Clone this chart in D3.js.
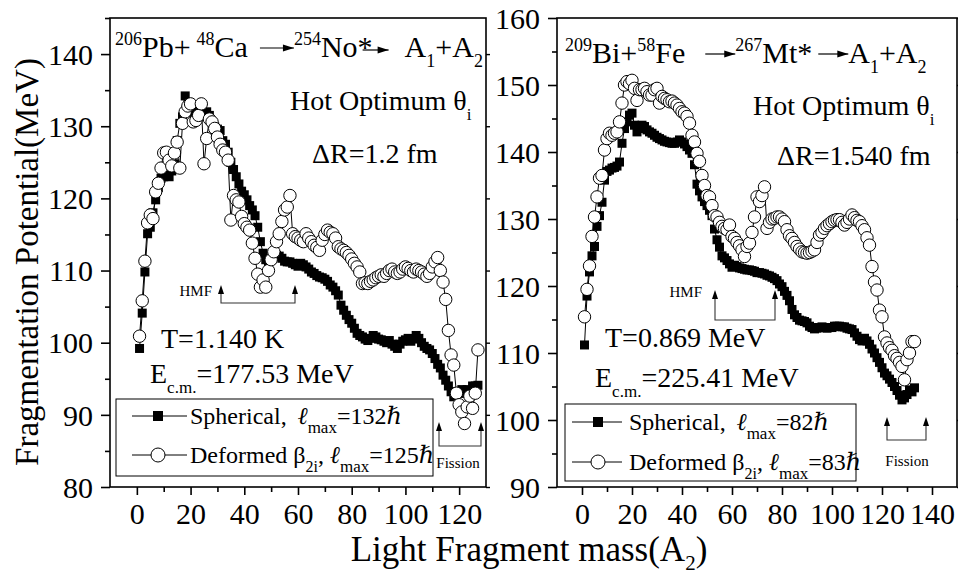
<!DOCTYPE html>
<html><head><meta charset="utf-8">
<script src="https://cdn.jsdelivr.net/npm/d3@7"></script>
<style>body{margin:0;background:#fff}text{font-family:"Liberation Serif","DejaVu Serif","Times New Roman",serif;fill:#000}</style>
</head><body><svg id="c" width="958" height="574"></svg>
<script>
// ---------- DATA ----------
// Left panel: 206Pb+48Ca -> 254No*, A2 = 1..127
const leftMass = d3.range(1, 128);
const leftSpherical = [
 99.2,104.1,109.8,115.1,116,118,119.8,121.5,122.8,123,123.2,123,123.8,124.8,128,130.4,131.3,134.2,133,132.7,
 131.5,132,132.5,131.5,131.8,132,131.5,130.5,129.9,129.6,129.4,128,127.5,126.4,125,124,123,122,121,120.5,
 119.8,119,118.4,117.6,116,114,112.4,111.5,111.2,111.5,112,112.1,112,111.7,111.3,111.2,111.2,111,110.8,110.6,
 111,110.8,110.5,110.2,109.8,109.6,109.3,109.1,109,108.8,108.5,108,107.7,107.2,106.6,105.2,104.5,103.8,103.2,102.7,
 102,101.3,101,100.8,100.5,100.3,100.6,101,100.8,100.5,100.4,100.2,100,100.3,99.8,99.5,99.2,99.8,100.2,100.4,
 100.6,100.2,100.5,101,100.6,100,99.5,99.2,99,98.5,97.8,97,96.5,95.5,94.8,94,93.2,92.5,93,93,
 93.5,93,93.5,93.2,94,94,94.1];
const leftDeformed = [
 100.9,105.8,111.3,116.6,117.7,117.2,120.9,122.1,124.2,126.3,126.4,125.3,124.5,126.3,127.8,124.2,130.4,132,132.8,133.1,
 130.6,130.8,131.5,133.1,124.8,128.3,131,130.6,129.7,128.5,127.5,126.7,126.4,125.3,117,120.4,119.8,119.5,117.5,116.5,
 116,115.6,113.8,111.7,109.5,107.7,108.7,107.7,110,111.5,112.6,114,115.1,116.8,118.4,118.8,120.4,115.1,114.7,114.5,
 114.2,114,115.1,114.5,114,113.5,113.2,112.8,114.2,115,115.6,115.3,115.1,114.5,113.3,113,112.8,112.5,112.1,111.6,
 111,110.5,109.8,108.2,108.3,108.2,108.5,108.7,109,109.2,109.4,109.2,109.6,110,110.2,109.8,109.6,109.8,110.2,110.5,
 110.3,110,109.8,110.2,110,109.8,109.5,109.2,109.6,110.5,111.2,111.8,110,108.4,106,101.7,98.3,96.9,93,91.4,
 90.4,88.8,91.1,92.6,90.9,93,99];
// Right panel: 209Bi+58Fe -> 267Mt*, A2 = 1..133
const rightMass = d3.range(1, 134);
const rightSpherical = [
 111.2,118.5,122.1,124.5,125.9,128.9,130.5,132.5,135.8,137.1,137.3,137.6,137.7,137.9,138.5,141.3,143.5,144.5,145.5,145.8,
 144,143,143.5,144,143.8,143.3,143,142.8,142.5,142.2,142,141.8,141.6,141.5,141.4,141.3,141.3,141.5,141.8,141.5,
 141.2,140.8,140.3,139.8,138.1,135.2,134.2,133.3,132.6,132,131.3,130.5,128.5,126.9,125.8,124.5,124.2,123.8,123.3,122.8,
 123.1,122.9,122.7,122.6,122.5,122.4,122.4,122.3,122.2,122,122,121.9,121.8,121.6,121.5,121.3,121.1,120.8,120.3,119.9,
 119.2,118.6,117.8,116.5,115.7,115.3,114.9,114.8,114.7,114.5,114,113.8,113.6,113.7,113.8,113.9,113.8,113.7,113.8,113.8,
 114,114,114,113.9,113.9,113.7,113.6,113.5,113,112.5,112,111.8,112.2,111.8,111.3,110.6,110,109.3,108.6,107.8,
 107,106.6,106.1,105.6,105,104.4,103.7,103,103.3,103.8,104.5,104.2,104.8];
const rightDeformed = [
 115.4,119.5,123,127.4,130.3,133.3,136.1,136.5,140.3,142,142.8,142.5,142.8,143,144.5,147.3,150,150.5,150.2,150.7,
 149.5,147.7,149.3,149.3,149.5,149,148.5,148.5,149.3,149.5,147.3,148.3,148,147.8,147.5,147.6,147.3,147,146.5,146,
 145.8,145.3,144.3,142.5,141.5,139.8,138.6,136.5,135,133.5,133.3,132,130.5,130.3,129.5,128.9,128.6,128.4,129.1,127.4,
 127.1,126.5,126,125.4,124.4,125.9,126.4,128,130.3,133.3,132.6,133.5,134.8,128.6,129.5,130,130.1,130.3,130.3,130,
 129.6,128.4,127.5,127.1,126.5,125.9,125.5,125.1,125,124.9,125,125.2,125.4,126.5,127.6,128,128.6,129,129.3,129.6,
 129.8,129.9,129.9,129.5,129.1,129.5,130,130.6,130.2,129.8,129.6,129,128.4,127.2,126.1,122.9,120.6,119.4,116.4,115.4,
 112.4,111.5,110.8,110.4,109.6,109.2,108.6,108,106,109,110,111.7,111.7];

const leftYTicks = [80, 90, 100, 110, 120, 130, 140];
const rightYTicks = [90, 100, 110, 120, 130, 140, 150, 160];
const leftXTicks = [0, 20, 40, 60, 80, 100, 120];
const rightXTicks = [0, 20, 40, 60, 80, 100, 120, 140];

// ---------- DRAW ----------
const svg = d3.select("#c");
svg.append("rect").attr("width", 958).attr("height", 574).attr("fill", "#fff");
const SERIF = '"Liberation Serif","DejaVu Serif","Times New Roman",serif';

function arrowHead(g, x, y, dir) {
  const p = dir === 'up' ? [[x, y], [x - 3, y + 9], [x + 3, y + 9]] : [[x, y], [x - 11, y - 3.5], [x - 11, y + 3.5]];
  g.append("path").attr("d", "M" + p.map(q => q.join(",")).join("L") + "Z").attr("fill", "#000");
}

function rich(g, x, y, segs) {
  let cx = x;
  segs.forEach(s => {
    if (s.arrow) {
      const ay = y + (s.ay || -9);
      const x0 = cx + (s.off || 0);
      g.append("line").attr("x1", x0).attr("x2", x0 + s.arrow).attr("y1", ay).attr("y2", ay).attr("stroke", "#000").attr("stroke-width", 1.2);
      arrowHead(g, x0 + s.arrow, ay, 'right');
      cx = x0 + s.arrow + (s.gap || 0);
      return;
    }
    const t = g.append("text").attr("x", cx).attr("y", y + (s.dy || 0)).attr("font-size", s.size || 30)
      .style("white-space", "pre").text(s.t);
    if (s.italic) t.attr("font-style", "italic");
    cx += t.node().getComputedTextLength() + (s.gap || 0);
  });
  return cx;
}

function panel(cfg) {
  const g = svg.append("g");
  const x = d3.scaleLinear().domain(cfg.xDomain).range([cfg.x0, cfg.x1]);
  const y = d3.scaleLinear().domain(cfg.yDomain).range([cfg.y1, cfg.y0]);
  const yMinor = d3.range(cfg.yDomain[0], cfg.yDomain[1] + 0.01, 5).filter(v => !cfg.yTicks.includes(v));
  const xMinor = d3.range(-10, cfg.xDomain[1] + 0.01, 10).filter(v => !cfg.xTicks.includes(v) && v > cfg.xDomain[0] && v < cfg.xDomain[1]);

  g.append("rect").attr("x", cfg.x0).attr("y", cfg.y0).attr("width", cfg.x1 - cfg.x0).attr("height", cfg.y1 - cfg.y0)
    .attr("fill", "none").attr("stroke", "#000").attr("stroke-width", 1.6);

  const ya = d3.axisLeft(y).tickValues(cfg.yTicks).tickSize(9).tickPadding(8).tickFormat(d3.format("d"));
  const yg = g.append("g").attr("transform", `translate(${cfg.x0},0)`).call(ya);
  yg.select(".domain").remove();
  yg.selectAll("line").attr("stroke-width", 1.6);
  yg.selectAll("text").attr("font-size", 30).attr("font-family", SERIF).attr("fill", "#000").attr("dy", "0.34em");
  const ym = d3.axisLeft(y).tickValues(yMinor).tickSize(5).tickFormat("");
  const ymg = g.append("g").attr("transform", `translate(${cfg.x0},0)`).call(ym);
  ymg.select(".domain").remove(); ymg.selectAll("line").attr("stroke-width", 1.6);
  const yr = d3.axisRight(y).tickValues(cfg.yTicks).tickSize(4).tickFormat("");
  const yrg = g.append("g").attr("transform", `translate(${cfg.x1},0)`).call(yr);
  yrg.select(".domain").remove(); yrg.selectAll("line").attr("stroke-width", 1.4);

  const xa = d3.axisBottom(x).tickValues(cfg.xTicks).tickSize(8).tickPadding(8).tickFormat(d3.format("d"));
  const xg = g.append("g").attr("transform", `translate(0,${cfg.y1})`).call(xa);
  xg.select(".domain").remove();
  xg.selectAll("line").attr("stroke-width", 1.6);
  xg.selectAll("text").attr("font-size", 30).attr("font-family", SERIF).attr("fill", "#000");
  const xm = d3.axisBottom(x).tickValues(xMinor).tickSize(5).tickFormat("");
  const xmg = g.append("g").attr("transform", `translate(0,${cfg.y1})`).call(xm);
  xmg.select(".domain").remove(); xmg.selectAll("line").attr("stroke-width", 1.6);

  const line = d3.line().x(d => x(d[0])).y(d => y(d[1]));
  const sph = cfg.mass.map((m, i) => [m, cfg.sph[i]]);
  const def = cfg.mass.map((m, i) => [m, cfg.def[i]]);

  g.append("path").datum(sph).attr("d", line).attr("fill", "none").attr("stroke", "#000").attr("stroke-width", 1);
  g.selectAll(".sq").data(sph).join("rect").attr("class", "sq")
    .attr("x", d => x(d[0]) - 4.5).attr("y", d => y(d[1]) - 4.5).attr("width", 9).attr("height", 9).attr("fill", "#000");
  g.append("path").datum(def).attr("d", line).attr("fill", "none").attr("stroke", "#000").attr("stroke-width", 1);
  g.selectAll(".ci").data(def).join("circle").attr("class", "ci")
    .attr("cx", d => x(d[0])).attr("cy", d => y(d[1])).attr("r", 6.2).attr("fill", "#fff").attr("stroke", "#000").attr("stroke-width", 1);

  const L = cfg.legend;
  g.append("rect").attr("x", L.x).attr("y", L.y).attr("width", L.w).attr("height", L.h)
    .attr("fill", "#fff").attr("stroke", "#000").attr("stroke-width", 1);
  [0, 1].forEach(k => {
    const ry = L.y + L.rowY[k];
    g.append("line").attr("x1", L.lx0).attr("x2", L.lx1).attr("y1", ry).attr("y2", ry).attr("stroke", "#000").attr("stroke-width", 1);
    if (k === 0) g.append("rect").attr("x", L.sym - 5).attr("y", ry - 5).attr("width", 10).attr("height", 10).attr("fill", "#000");
    else g.append("circle").attr("cx", L.sym).attr("cy", ry).attr("r", 7).attr("fill", "#fff").attr("stroke", "#000");
    rich(g, L.tx, ry + 8, L.rows[k]);
  });

  cfg.brackets.forEach(b => {
    g.append("polyline").attr("points", `${b.xa},${b.tip + 6} ${b.xa},${b.base} ${b.xb},${b.base} ${b.xb},${b.tip + 6}`)
      .attr("fill", "none").attr("stroke", "#333").attr("stroke-width", 1.1);
    arrowHead(g, b.xa, b.tip, 'up');
    arrowHead(g, b.xb, b.tip, 'up');
    g.append("text").attr("x", b.tx).attr("y", b.ty).attr("font-size", 15).attr("text-anchor", b.anchor).text(b.label);
  });

  cfg.texts.forEach(t => rich(g, t.x, t.y, t.segs));
}

const sub = (t, s) => ({ t, size: s || 18, dy: 10 });
const sup = (t, s) => ({ t, size: s || 18, dy: -12 });
const legRow = (pre, preSub, val) => {
  const r = [{ t: pre, size: 24, gap: preSub ? 0 : 5 }];
  if (preSub) r.push({ t: "2i", size: 16, dy: 9 }, { t: ", ", size: 24 });
  r.push({ t: "ℓ", size: 24, italic: true }, { t: "max", size: 17, dy: 9 }, { t: "=" + val, size: 24 }, { t: "ℏ", size: 24, italic: true });
  return r;
};

panel({
  x0: 110, x1: 486, y0: 18, y1: 487, xDomain: [-10, 130], yDomain: [80, 145],
  yTicks: leftYTicks, xTicks: leftXTicks,
  mass: leftMass, sph: leftSpherical, def: leftDeformed,
  legend: { x: 116, y: 399, w: 317, h: 77, rowY: [17, 56], lx0: 132, lx1: 187, sym: 158, tx: 190,
    rows: [legRow("Spherical, ", false, 132), legRow("Deformed β", true, 125)] },
  brackets: [
    { xa: 221, xb: 295, tip: 285, base: 303, label: "HMF", tx: 212, ty: 296, anchor: "end" },
    { xa: 439, xb: 481, tip: 422, base: 446, label: "Fission", tx: 458, ty: 468, anchor: "middle" }
  ],
  texts: [
    { x: 115, y: 57, segs: [sup("206"), { t: "Pb+", gap: 6 }, sup("48"), { t: "Ca", gap: 12 }, { arrow: 34 }, sup("254"), { t: "No*" }, { arrow: 26, off: -10, ay: -7, gap: 16 }, { t: "A" }, sub("1"), { t: "+A" }, sub("2")] },
    { x: 290, y: 110, segs: [{ t: "Hot Optimum θ", size: 28 }, { t: "i", size: 17, dy: 10 }] },
    { x: 312, y: 163, segs: [{ t: "ΔR=1.2 fm", size: 28 }] },
    { x: 161, y: 348, segs: [{ t: "T=1.140 K", size: 28 }] },
    { x: 150, y: 383, segs: [{ t: "E", size: 28 }, { t: "c.m.", size: 17, dy: 10 }, { t: "=177.53 MeV", size: 28 }] }
  ]
});

panel({
  x0: 557, x1: 957, y0: 18, y1: 487, xDomain: [-10, 150], yDomain: [90, 160],
  yTicks: rightYTicks, xTicks: rightXTicks,
  mass: rightMass, sph: rightSpherical, def: rightDeformed,
  legend: { x: 565, y: 404, w: 291, h: 77, rowY: [18, 58], lx0: 572, lx1: 622, sym: 598, tx: 629,
    rows: [legRow("Spherical, ", false, 82), legRow("Deformed β", true, 83)] },
  brackets: [
    { xa: 715, xb: 775, tip: 290, base: 320, label: "HMF", tx: 702, ty: 297, anchor: "end" },
    { xa: 887, xb: 926, tip: 417, base: 440, label: "Fission", tx: 907, ty: 466, anchor: "middle" }
  ],
  texts: [
    { x: 565, y: 63, segs: [sup("209"), { t: "Bi+" }, sup("58"), { t: "Fe", gap: 20 }, { arrow: 30 }, sup("267"), { t: "Mt*", gap: 6 }, { arrow: 30 }, { t: "A" }, sub("1"), { t: "+A" }, sub("2")] },
    { x: 753, y: 115, segs: [{ t: "Hot Optimum θ", size: 28 }, { t: "i", size: 17, dy: 10 }] },
    { x: 777, y: 165, segs: [{ t: "ΔR=1.540 fm", size: 28 }] },
    { x: 605, y: 347, segs: [{ t: "T=0.869 MeV", size: 28 }] },
    { x: 595, y: 387, segs: [{ t: "E", size: 28 }, { t: "c.m.", size: 17, dy: 10 }, { t: "=225.41 MeV", size: 28 }] }
  ]
});

svg.append("text").attr("transform", "translate(38,262) rotate(-90)").attr("text-anchor", "middle")
  .attr("font-size", 33).text("Fragmentation Potential(MeV)");
const xt = svg.append("text").attr("x", 529).attr("y", 561).attr("text-anchor", "middle").attr("font-size", 35);
xt.append("tspan").text("Light Fragment mass(A");
xt.append("tspan").attr("font-size", 21).attr("dy", 9).text("2");
xt.append("tspan").attr("dy", -9).text(")");
</script></body></html>
